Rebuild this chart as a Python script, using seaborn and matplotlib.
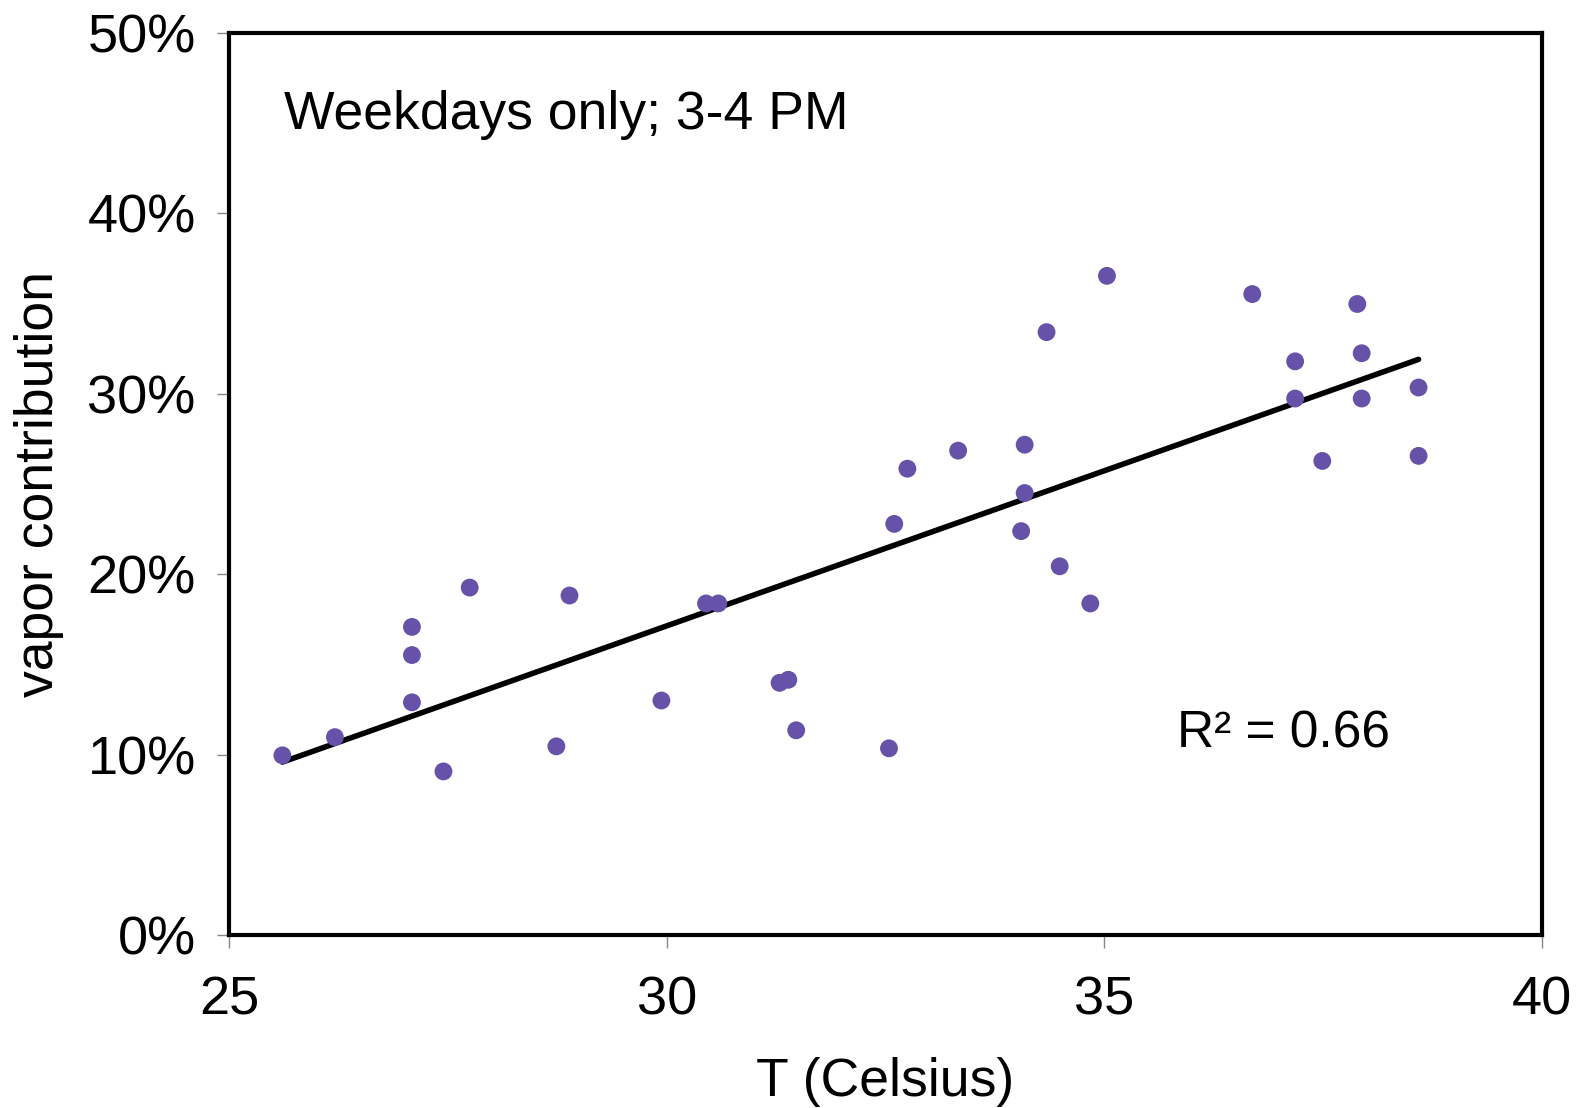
import numpy as np
import pandas as pd
import matplotlib
matplotlib.use("Agg")
import matplotlib.pyplot as plt
import seaborn as sns
from matplotlib.ticker import PercentFormatter

# Data
temperature_c = [25.61, 26.21, 27.09, 27.09, 27.09, 27.45, 27.75, 28.74, 28.89, 29.94,
                 30.45, 30.59, 31.29, 31.39, 31.48, 32.54, 32.60, 32.75, 33.33, 34.05,
                 34.09, 34.09, 34.34, 34.49, 34.84, 35.03, 36.69, 37.18, 37.18, 37.49,
                 37.89, 37.94, 37.94, 38.59, 38.59]
vapor_pct = [9.96, 10.97, 17.08, 15.52, 12.90, 9.07, 19.26, 10.46, 18.82, 13.00,
             18.38, 18.38, 13.98, 14.15, 11.35, 10.35, 22.79, 25.85, 26.85, 22.39,
             27.18, 24.50, 33.42, 20.44, 18.38, 36.54, 35.53, 31.80, 29.74, 26.28,
             34.98, 32.25, 29.74, 30.35, 26.56]
x_ticks = [25, 30, 35, 40]
y_ticks = [0, 10, 20, 30, 40, 50]
annotation_title = "Weekdays only; 3-4 PM"
annotation_r2 = "R\u00b2 = 0.66"

df = pd.DataFrame({"T": temperature_c, "vapor": vapor_pct})

sns.set_style("white")
plt.rcParams["font.family"] = ["Liberation Sans", "DejaVu Sans"]
plt.rcParams["text.color"] = "black"
plt.rcParams["axes.labelcolor"] = "black"

fig = plt.figure(figsize=(15.77, 11.08), dpi=100)
ax = fig.add_axes([0.1452, 0.1561, 0.8326, 0.8141])

sns.regplot(data=df, x="T", y="vapor", ax=ax, ci=None, truncate=True,
            scatter_kws=dict(s=165, color="#6652a8", edgecolor="none", alpha=1, zorder=3),
            line_kws=dict(color="black", linewidth=4, zorder=2))

ax.set_xlim(25, 40)
ax.set_ylim(0, 50)
ax.set_xticks(x_ticks)
ax.set_yticks(y_ticks)
ax.yaxis.set_major_formatter(PercentFormatter(decimals=0))

for s in ax.spines.values():
    s.set_visible(True)
    s.set_color("black")
    s.set_linewidth(3)

ax.tick_params(axis="both", which="major", direction="out", length=9, width=1,
               color="#888888", labelsize=39, labelcolor="black")
ax.tick_params(axis="y", pad=15)
ax.tick_params(axis="x", pad=20)
ax.xaxis.set_ticks_position("bottom")
ax.yaxis.set_ticks_position("left")

ax.set_xlabel("T (Celsius)", fontsize=38.5, labelpad=23, color="black")
ax.set_ylabel("vapor contribution", fontsize=38.5, labelpad=17, color="black")

ax.text(0.042, 0.894, annotation_title, transform=ax.transAxes, fontsize=38.5,
        ha="left", va="baseline", color="black")
ax.text(0.722, 0.208, annotation_r2, transform=ax.transAxes, fontsize=37,
        ha="left", va="baseline", color="black")

fig.savefig("out.png", dpi=100, facecolor="white")
